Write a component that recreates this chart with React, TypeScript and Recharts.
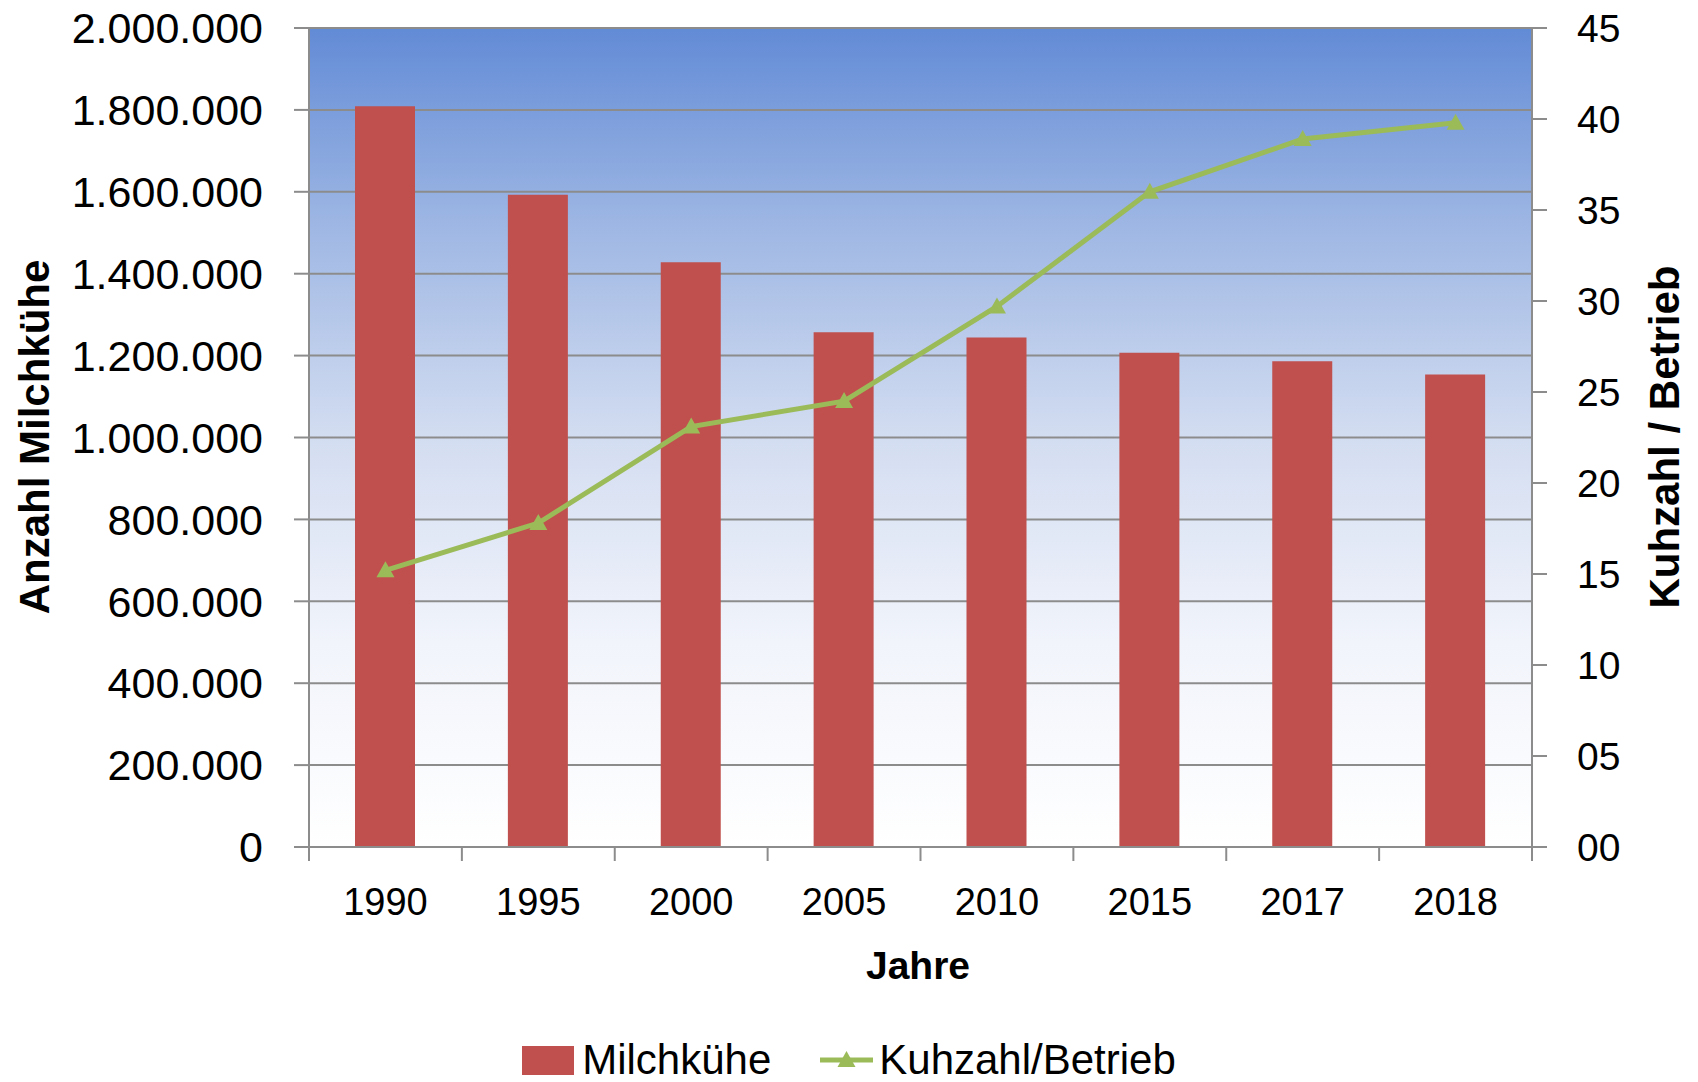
import React from "react";
import { ComposedChart, Bar, Line, XAxis, YAxis, CartesianGrid, Legend } from "recharts";

const years = ["1990", "1995", "2000", "2005", "2010", "2015", "2017", "2018"];
const milchkuehe = [1809000, 1593000, 1428000, 1257000, 1244000, 1207000, 1186000, 1154000];
const kuhzahl = [15.2, 17.8, 23.1, 24.5, 29.7, 36.0, 38.9, 39.8];
const leftTicks = [0, 200000, 400000, 600000, 800000, 1000000, 1200000, 1400000, 1600000, 1800000, 2000000];
const rightTicks = [0, 5, 10, 15, 20, 25, 30, 35, 40, 45];

const data = years.map((year, i) => ({ year, kuehe: milchkuehe[i], kuhzahl: kuhzahl[i] }));

const FONT = "'Liberation Sans', Arial, sans-serif";
const RED = "#C0504D";
const GREEN = "#9BBB59";
const GRID = "#8C8C8C";
const X_TICK = 14;
const X_MARGIN = 27;

const fmtThousands = (v: number) => String(v).replace(/\B(?=(\d{3})+(?!\d))/g, ".");
const pad2 = (v: number) => String(v).padStart(2, "0");

function XTick(props: any) {
  const { x, y, payload, index, visibleTicksCount } = props;
  const half = payload?.offset ?? 76.4;
  const axisY = y - X_MARGIN - X_TICK;
  return (
    <g>
      <line x1={x - half} x2={x - half} y1={axisY} y2={axisY + X_TICK} stroke={GRID} strokeWidth={2} />
      {index === visibleTicksCount - 1 && (
        <line x1={x + half} x2={x + half} y1={axisY} y2={axisY + X_TICK} stroke={GRID} strokeWidth={2} />
      )}
      <text x={x} y={y} dy="0.71em" textAnchor="middle" fontSize={38} fill="#000" fontFamily={FONT}>
        {payload.value}
      </text>
    </g>
  );
}

function Triangle(props: any) {
  const { cx, cy, index } = props;
  if (cx == null || cy == null) return null;
  return <path key={index} d={`M${cx},${cy - 9} L${cx + 9},${cy + 7} L${cx - 9},${cy + 7} Z`} fill={GREEN} />;
}

function LegendContent() {
  return (
    <div style={{ display: "flex", justifyContent: "center", alignItems: "center", height: 44, fontFamily: FONT, fontSize: 42, lineHeight: 1, color: "#000" }}>
      <span style={{ display: "inline-block", width: 52, height: 29, background: RED, marginRight: 8 }} />
      <span>Milchkühe</span>
      <svg width={53} height={30} style={{ marginLeft: 49, marginRight: 6 }}>
        <line x1={0} x2={53} y1={15} y2={15} stroke={GREEN} strokeWidth={5} />
        <path d="M26.5,6 L35.5,22 L17.5,22 Z" fill={GREEN} />
      </svg>
      <span>Kuhzahl/Betrieb</span>
    </div>
  );
}

const Title = ({ x, y, text }: { x: number; y: number; text: string }) => (
  <text x={x} y={y} transform={`rotate(-90, ${x}, ${y})`} textAnchor="middle" fontSize={42} fontWeight="bold" fill="#000" fontFamily={FONT}>
    {text}
  </text>
);

export default function App() {
  return (
    <div style={{ position: "absolute", left: 0, top: 0, width: 1698, height: 1082, background: "#fff", fontFamily: FONT }}>
      <ComposedChart width={1698} height={1082} data={data} margin={{ top: 28, right: 0, bottom: 0, left: 0 }}>
        <defs>
          <linearGradient id="plotBg" x1="0" y1="0" x2="0" y2="1">
            <stop offset="0%" stopColor="#628BD6" />
            <stop offset="25%" stopColor="#A0B8E4" />
            <stop offset="50%" stopColor="#D3DDF1" />
            <stop offset="75%" stopColor="#F1F4FB" />
            <stop offset="100%" stopColor="#FFFFFF" />
          </linearGradient>
        </defs>
        <CartesianGrid yAxisId="left" vertical={false} stroke={GRID} strokeWidth={2} fill="url(#plotBg)" fillOpacity={1} />
        <XAxis
          dataKey="year"
          height={191}
          interval={0}
          tickLine={false}
          tickSize={X_TICK}
          tickMargin={X_MARGIN}
          axisLine={{ stroke: GRID, strokeWidth: 2 }}
          tick={<XTick />}
          label={{ content: () => <text x={918} y={979} textAnchor="middle" fontSize={39} fontWeight="bold" fill="#000" fontFamily={FONT}>Jahre</text> }}
        />
        <YAxis
          yAxisId="left"
          orientation="left"
          width={309}
          domain={[0, 2000000]}
          ticks={leftTicks}
          interval={0}
          tickFormatter={fmtThousands}
          tick={{ fill: "#000", fontSize: 43, fontFamily: FONT }}
          tickSize={15}
          tickMargin={31}
          axisLine={{ stroke: GRID, strokeWidth: 2 }}
          tickLine={{ stroke: GRID, strokeWidth: 2 }}
          label={{ content: () => <Title x={49} y={437} text="Anzahl Milchkühe" /> }}
        />
        <YAxis
          yAxisId="right"
          orientation="right"
          width={166}
          domain={[0, 45]}
          ticks={rightTicks}
          interval={0}
          tickFormatter={pad2}
          tick={{ fill: "#000", fontSize: 39, fontFamily: FONT }}
          tickSize={15}
          tickMargin={30}
          axisLine={{ stroke: GRID, strokeWidth: 2 }}
          tickLine={{ stroke: GRID, strokeWidth: 2 }}
          label={{ content: () => <Title x={1679} y={437} text="Kuhzahl / Betrieb" /> }}
        />
        <Bar yAxisId="left" dataKey="kuehe" name="Milchkühe" fill={RED} barSize={60} isAnimationActive={false} />
        <Line
          yAxisId="right"
          dataKey="kuhzahl"
          name="Kuhzahl/Betrieb"
          type="linear"
          stroke={GREEN}
          strokeWidth={5}
          dot={<Triangle />}
          activeDot={false}
          isAnimationActive={false}
        />
        <Legend verticalAlign="bottom" height={44} content={<LegendContent />} />
      </ComposedChart>
    </div>
  );
}
